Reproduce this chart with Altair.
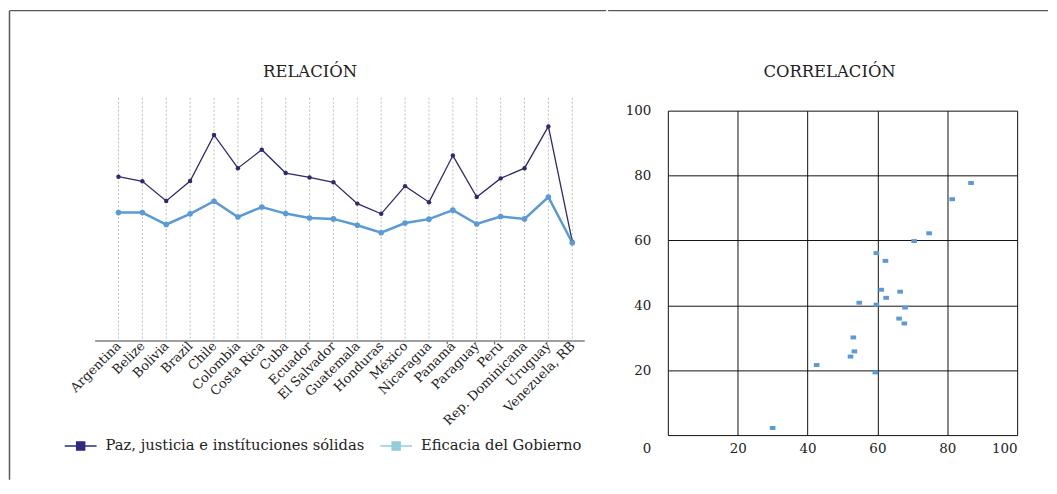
import json
import altair as alt
import pandas as pd

# ---------------- data ----------------
countries = ["Argentina", "Belize", "Bolivia", "Brazil", "Chile", "Colombia",
             "Costa Rica", "Cuba", "Ecuador", "El Salvador", "Guatemala",
             "Honduras", "México", "Nicaragua", "Panamá", "Paraguay", "Perú",
             "Rep. Dominicana", "Uruguay", "Venezuela, RB"]
paz = [67.5, 65.6, 57.5, 65.7, 84.7, 71.0, 78.6, 69.0, 67.2, 65.2,
       56.4, 52.2, 63.6, 57.0, 76.2, 59.1, 66.8, 71.0, 88.2, 40.7]
eficacia = [52.7, 52.7, 47.8, 52.2, 57.4, 50.9, 55.0, 52.3, 50.5, 50.1,
            47.5, 44.4, 48.4, 50.0, 53.7, 48.0, 51.1, 50.1, 59.1, 40.3]
series_names = ["Paz, justicia e instítuciones sólidas", "Eficacia del Gobierno"]
legend_colors = ["#2f2a7c", "#92cddc"]

scatter_x = [30.0, 42.6, 52.3, 53.4, 53.1, 54.8, 59.4, 59.7, 59.7, 62.3,
             61.1, 62.5, 66.5, 67.9, 66.2, 67.7, 70.5, 74.8, 81.4, 86.8]
scatter_y = [2.2, 21.6, 24.2, 25.8, 30.1, 40.8, 19.3, 40.2, 56.1, 53.7,
             44.8, 42.3, 44.2, 39.3, 35.9, 34.4, 59.8, 62.2, 72.7, 77.7]
grid_vals = [0, 20, 40, 60, 80, 100]

FONT = "DejaVu Serif"
DARK = "#2e2a6e"
LIGHT = "#5b9bd5"
FRAME = "#595959"

# ---------------- left chart: RELACIÓN ----------------
df = pd.DataFrame({"idx": list(range(len(countries))), "country": countries,
                   "paz": paz, "ef": eficacia})

names_js = json.dumps(countries, ensure_ascii=False)
x_axis = alt.Axis(values=list(range(len(countries))),
                  labelExpr=f"{names_js}[datum.value]",
                  labelAngle=315, labelAlign="right",
                  labelBaseline="middle", ticks=False,
                  labelOverlap=False, labelBound=False,
                  labelPadding=3, grid=False,
                  domainColor="#7f7f7f", domainWidth=1.5,
                  title=None, labelFontSize=13, labelColor="#222")
x_scale = alt.Scale(domain=[-1, 19.5], nice=False, zero=False)
x_enc = alt.X("idx:Q", scale=x_scale, axis=x_axis)
y_scale = alt.Scale(domain=[0, 94.7], nice=False, zero=True)

base = alt.Chart(df)
grid_rules = base.mark_rule(color="#bdbdbd", strokeDash=[2, 2], strokeWidth=1).encode(
    x=x_enc, y=alt.value(-13), y2=alt.value(231))
dark_line = base.mark_line(color=DARK, strokeWidth=1.3).encode(
    x=x_enc, y=alt.Y("paz:Q", scale=y_scale, axis=None))
dark_pts = base.mark_circle(color=DARK, size=20, opacity=1).encode(
    x=x_enc, y=alt.Y("paz:Q", scale=y_scale, axis=None))
light_line = base.mark_line(color=LIGHT, strokeWidth=2.5).encode(
    x=x_enc, y=alt.Y("ef:Q", scale=y_scale, axis=None))
light_pts = base.mark_circle(color=LIGHT, size=32, opacity=1).encode(
    x=x_enc, y=alt.Y("ef:Q", scale=y_scale, axis=None))


def make_legend():
    return alt.Legend(
        orient="none", legendX=-31, legendY=320,
        direction="horizontal", title=None,
        symbolType="M-1,0L1,0M-0.25,-0.25L0.25,-0.25L0.25,0.25L-0.25,0.25Z",
        symbolSize=1024, symbolStrokeWidth=1.5,
        symbolOpacity=1, labelFont=FONT, labelFontSize=14.8,
        labelColor="#222", labelOffset=8, columnPadding=12, labelLimit=500)


leg_df = pd.DataFrame({"serie": series_names})
leg_scale = alt.Scale(domain=series_names, range=legend_colors)
legend_layer = alt.Chart(leg_df).mark_point(opacity=0).encode(
    x=alt.value(0), y=alt.value(0),
    fill=alt.Fill("serie:N", scale=leg_scale, legend=make_legend()),
    stroke=alt.Stroke("serie:N", scale=leg_scale, legend=make_legend()))

frame_data = alt.Data(values=[{"a": 1}])
top_rule_left = alt.Chart(frame_data).mark_rule(color=FRAME, strokeWidth=1.5).encode(
    x=alt.value(-85.5), x2=alt.value(514), y=alt.value(-100.5))
left_rule = alt.Chart(frame_data).mark_rule(color=FRAME, strokeWidth=1.5).encode(
    x=alt.value(-85.5), y=alt.value(-100.5), y2=alt.value(371))

left = alt.layer(top_rule_left, left_rule, grid_rules, dark_line, light_line,
                 dark_pts, light_pts, legend_layer).properties(
    width=492, height=231,
    title=alt.Title("RELACIÓN", dx=-29.5, offset=-71, frame="group"))

# ---------------- right chart: CORRELACIÓN ----------------
sdf = pd.DataFrame({"x": scatter_x, "y": scatter_y})
scatter = alt.Chart(sdf).mark_point(
    shape="M-1,-0.7L1,-0.7L1,0.7L-1,0.7Z", filled=True, size=32,
    color=LIGHT, opacity=1).encode(
    x=alt.X("x:Q", scale=alt.Scale(domain=[0, 100], nice=False),
            axis=alt.Axis(values=grid_vals,
                          labelExpr="datum.value === 0 ? '' : datum.label",
                          grid=True, gridColor="#111111", gridWidth=1,
                          ticks=False, domain=False, labelPadding=6,
                          title=None, labelFontSize=13.5, labelColor="#222")),
    y=alt.Y("y:Q", scale=alt.Scale(domain=[0, 100], nice=False),
            axis=alt.Axis(values=grid_vals, grid=True, gridColor="#111111",
                          gridWidth=1, ticks=False, domain=False,
                          labelPadding=17, title=None, labelFontSize=13.5,
                          labelColor="#222",
                          labelOffset={"condition": {"test": "datum.value === 0",
                                                     "value": 14},
                                       "value": 0})))
top_rule_right = alt.Chart(frame_data).mark_rule(color=FRAME, strokeWidth=1.5).encode(
    x=alt.value(-60), x2=alt.value(382), y=alt.value(-100.5))

right = alt.layer(top_rule_right, scatter).properties(
    width=351, height=326,
    title=alt.Title("CORRELACIÓN", dx=-13, offset=-71, frame="group"))

chart = alt.hconcat(left, right, spacing=0).properties(
    padding=0
).configure_view(stroke=None).configure_title(
    font=FONT, fontSize=16.5, fontWeight="normal", color="#222", anchor="middle"
).configure_axis(labelFont=FONT, labelOverlap=False)

chart.save("out.html", embed_options={"renderer": "svg", "actions": False})
